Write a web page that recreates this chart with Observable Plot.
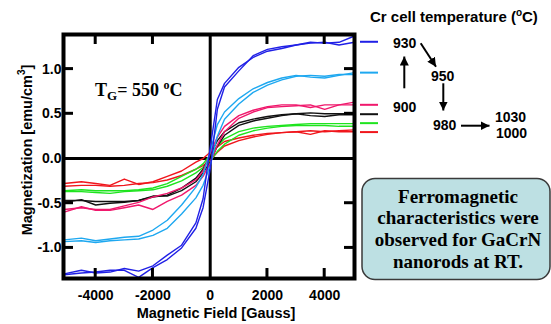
<!DOCTYPE html>
<html><head><meta charset="utf-8">
<script src="https://cdn.jsdelivr.net/npm/d3@7"></script>
<script src="https://cdn.jsdelivr.net/npm/@observablehq/plot@0.6"></script>
<style>body{margin:0;background:#fff;} #chart{width:551px;height:324px;}</style>
</head><body><div id="chart"></div>
<script>
// Applied field (Gauss), shared by every branch
const fieldG = [-5100,-4500,-4000,-3500,-3000,-2500,-2000,-1500,-1000,-500,-250,0,250,500,1000,1500,2000,2500,3000,3500,4000,4500,5040];

// Magnetization (emu/cm3), descending (Down) and ascending (Up) branches
const blueDown  = [-1.29,-1.25,-1.28,-1.27,-1.23,-1.26,-1.20,-1.08,-0.97,-0.72,-0.45,0.12,0.66,0.84,1.02,1.13,1.20,1.23,1.27,1.30,1.29,1.30,1.37];
const blueUp    = [-1.30,-1.28,-1.27,-1.25,-1.25,-1.33,-1.22,-1.13,-1.00,-0.78,-0.55,-0.12,0.55,0.80,0.98,1.15,1.22,1.25,1.27,1.29,1.30,1.27,1.30];
const skyDown   = [-0.91,-0.89,-0.92,-0.90,-0.88,-0.87,-0.80,-0.69,-0.52,-0.32,-0.18,0.08,0.38,0.52,0.67,0.78,0.85,0.90,0.93,0.91,0.90,0.93,0.96];
const skyUp     = [-0.93,-0.92,-0.94,-0.92,-0.91,-0.90,-0.86,-0.78,-0.62,-0.44,-0.30,-0.08,0.25,0.44,0.61,0.74,0.82,0.88,0.92,0.93,0.92,0.94,0.94];
const pinkDown  = [-0.57,-0.55,-0.57,-0.57,-0.53,-0.49,-0.43,-0.39,-0.33,-0.24,-0.14,0.06,0.24,0.36,0.48,0.54,0.58,0.60,0.60,0.57,0.60,0.60,0.63];
const pinkUp    = [-0.60,-0.54,-0.58,-0.58,-0.55,-0.52,-0.57,-0.48,-0.41,-0.30,-0.20,-0.05,0.15,0.30,0.45,0.52,0.57,0.58,0.59,0.60,0.55,0.60,0.60];
const blackDown = [-0.47,-0.47,-0.48,-0.48,-0.48,-0.47,-0.43,-0.41,-0.33,-0.22,-0.12,0.04,0.20,0.30,0.40,0.44,0.47,0.49,0.50,0.51,0.50,0.50,0.50];
const blackUp   = [-0.49,-0.46,-0.52,-0.50,-0.49,-0.47,-0.42,-0.42,-0.36,-0.26,-0.16,-0.04,0.14,0.26,0.37,0.42,0.45,0.48,0.50,0.48,0.47,0.49,0.49];
const greenDown = [-0.36,-0.35,-0.36,-0.36,-0.36,-0.35,-0.33,-0.28,-0.20,-0.12,-0.06,0.04,0.14,0.22,0.30,0.34,0.36,0.37,0.38,0.39,0.39,0.39,0.39];
const greenUp   = [-0.37,-0.37,-0.38,-0.39,-0.37,-0.36,-0.35,-0.31,-0.25,-0.16,-0.10,-0.03,0.08,0.16,0.26,0.31,0.34,0.36,0.37,0.37,0.37,0.36,0.36];
const redDown   = [-0.28,-0.26,-0.28,-0.30,-0.23,-0.29,-0.26,-0.20,-0.14,-0.04,0.00,0.07,0.13,0.19,0.23,0.26,0.28,0.29,0.30,0.31,0.30,0.31,0.32];
const redUp     = [-0.31,-0.30,-0.30,-0.31,-0.30,-0.28,-0.27,-0.24,-0.19,-0.12,-0.08,-0.02,0.07,0.14,0.20,0.24,0.27,0.29,0.30,0.27,0.31,0.30,0.30];

// Series (Cr cell temperature), colours, and legend levels (saturation)
const seriesNames  = ["1000","1030","980","900","950","930"];
const seriesColors = ["#f0161c","#1ee41e","#111111","#f0186c","#1ea8f0","#2020e6"];
const seriesDown   = [redDown, greenDown, blackDown, pinkDown, skyDown, blueDown];
const seriesUp     = [redUp, greenUp, blackUp, pinkUp, skyUp, blueUp];
const legendLevels = [0.29, 0.39, 0.49, 0.595, 0.955, 1.30];

// Ticks
const xTicks = [-4000,-2000,0,2000,4000];
const yTicks = [-1.0,-0.5,0.0,0.5,1.0];

// Text
const xLabel = "Magnetic Field [Gauss]";
const legendTitle = "Cr cell temperature (";
const tempLabels = ["930","950","900","980","1030","1000"];
const boxLines = ["Ferromagnetic","characteristics were","observed for GaCrN","nanorods at RT."];

const rows = [];
seriesNames.forEach((s, k) => {
  [["down", seriesDown[k]], ["up", seriesUp[k]]].forEach(([b, arr]) => {
    arr.forEach((m, i) => rows.push({series: s, key: s + b, H: fieldG[i], M: m}));
  });
});

const plot = Plot.plot({
  width: 551, height: 324,
  marginLeft: 63, marginRight: 197, marginTop: 34, marginBottom: 46,
  x: {domain: [-5125, 5041]},
  y: {domain: [-1.342, 1.387], axis: null},
  color: {domain: seriesNames, range: seriesColors},
  style: {fontFamily: "'Liberation Sans', Arial, sans-serif", fontSize: "14px", fontWeight: "bold", background: "white", color: "black", overflow: "visible"},
  marks: [
    Plot.ruleX([0], {strokeWidth: 3}),
    Plot.ruleY([0], {strokeWidth: 3}),
    Plot.line(rows, {x: "H", y: "M", z: "key", stroke: "series", strokeWidth: 1.4}),
    Plot.frame({strokeWidth: 4}),
    Plot.axisX(xTicks, {anchor: "bottom", tickSize: 0, tickPadding: 12, tickFormat: d => String(d), label: null}),
    Plot.text(yTicks, {y: d => d, frameAnchor: "left", dx: -2, textAnchor: "end", lineAnchor: "middle", text: d => d.toFixed(1), fontSize: 14, fontWeight: "bold"})
  ]
});
document.getElementById("chart").appendChild(plot);

const xS = plot.scale("x"), yS = plot.scale("y");
const svg = d3.select(plot);

// Inward tick marks on all four sides, placed with the plot's scales
const L = 63, R = 354, T = 34, B = 278, tl = 10;
const tg0 = svg.append("g").attr("stroke", "black").attr("stroke-width", 3);
xTicks.filter(d => d !== 0).forEach(d => {
  const px = xS.apply(d);
  tg0.append("line").attr("x1", px).attr("x2", px).attr("y1", B).attr("y2", B - tl);
  tg0.append("line").attr("x1", px).attr("x2", px).attr("y1", T).attr("y2", T + tl);
});
yTicks.filter(d => d !== 0).forEach(d => {
  const py = yS.apply(d);
  tg0.append("line").attr("x1", L).attr("x2", L + tl).attr("y1", py).attr("y2", py);
  tg0.append("line").attr("x1", R).attr("x2", R - tl).attr("y1", py).attr("y2", py);
});

const g = svg.append("g").attr("font-family", "'Liberation Sans', Arial, sans-serif").attr("font-weight", "bold")
  .attr("fill", "black").attr("text-anchor", "start");

// Axis labels
g.append("text").attr("x", 216).attr("y", 318).attr("text-anchor", "middle").attr("font-size", 14.5).text(xLabel);
const yl = g.append("text").attr("transform", "translate(31.5,150) rotate(-90)").attr("text-anchor", "middle").attr("font-size", 14.5);
yl.append("tspan").text("Magnetization [emu/cm");
yl.append("tspan").attr("dy", -7).attr("font-size", 10).text("3");
yl.append("tspan").attr("dy", 7).text("]");

// TG label
const serif = "'Liberation Serif', 'Times New Roman', serif";
const tg = g.append("text").attr("x", 95).attr("y", 96).attr("font-family", serif).attr("font-size", 18);
tg.append("tspan").text("T");
tg.append("tspan").attr("font-size", 13).attr("dy", 4).text("G");
tg.append("tspan").attr("dy", -4).text("= 550 ");
tg.append("tspan").attr("font-size", 12).attr("dy", -7).text("o");
tg.append("tspan").attr("dy", 7).text("C");

// Legend dashes at saturation levels
seriesNames.forEach((s, k) => {
  g.append("line").attr("x1", 360).attr("x2", 378)
    .attr("y1", yS.apply(legendLevels[k])).attr("y2", yS.apply(legendLevels[k]))
    .attr("stroke", seriesColors[k]).attr("stroke-width", 2);
});

// Legend title
const lt = g.append("text").attr("x", 370).attr("y", 22).attr("font-size", 15);
lt.append("tspan").text(legendTitle);
lt.append("tspan").attr("font-size", 10).attr("dy", -6).text("o");
lt.append("tspan").attr("dy", 6).text("C)");

// Temperature labels
const labelPos = [[393,48],[431,81],[393,112],[433,130],[495,122],[496,138]];
tempLabels.forEach((t, i) => g.append("text").attr("x", labelPos[i][0]).attr("y", labelPos[i][1]).attr("font-size", 14).text(t));

// Arrows
svg.append("defs").append("marker").attr("id", "ah").attr("viewBox", "0 0 10 10")
  .attr("refX", 10).attr("refY", 5).attr("markerWidth", 9).attr("markerHeight", 9)
  .attr("markerUnits", "userSpaceOnUse").attr("orient", "auto")
  .append("path").attr("d", "M0,0L10,5L0,10Z").attr("fill", "black");
const arrows = [[404.3,88.3,404.3,56.5],[420.7,43.3,436,66.7],[443.3,83.3,443.3,110.5],[461,125.7,489.5,125.7]];
arrows.forEach(a => g.append("line").attr("x1", a[0]).attr("y1", a[1]).attr("x2", a[2]).attr("y2", a[3])
  .attr("stroke", "black").attr("stroke-width", 2).attr("marker-end", "url(#ah)"));

// Text box
g.append("rect").attr("x", 362).attr("y", 178.5).attr("width", 188).attr("height", 101).attr("rx", 13)
  .attr("fill", "#bde0e3").attr("stroke", "#3a3a3a").attr("stroke-width", 1.5);
boxLines.forEach((t, i) => g.append("text").attr("x", 458).attr("y", 202.7 + i * 21.7)
  .attr("text-anchor", "middle").attr("font-family", serif).attr("font-size", 19).text(t));
</script>
</body></html>
